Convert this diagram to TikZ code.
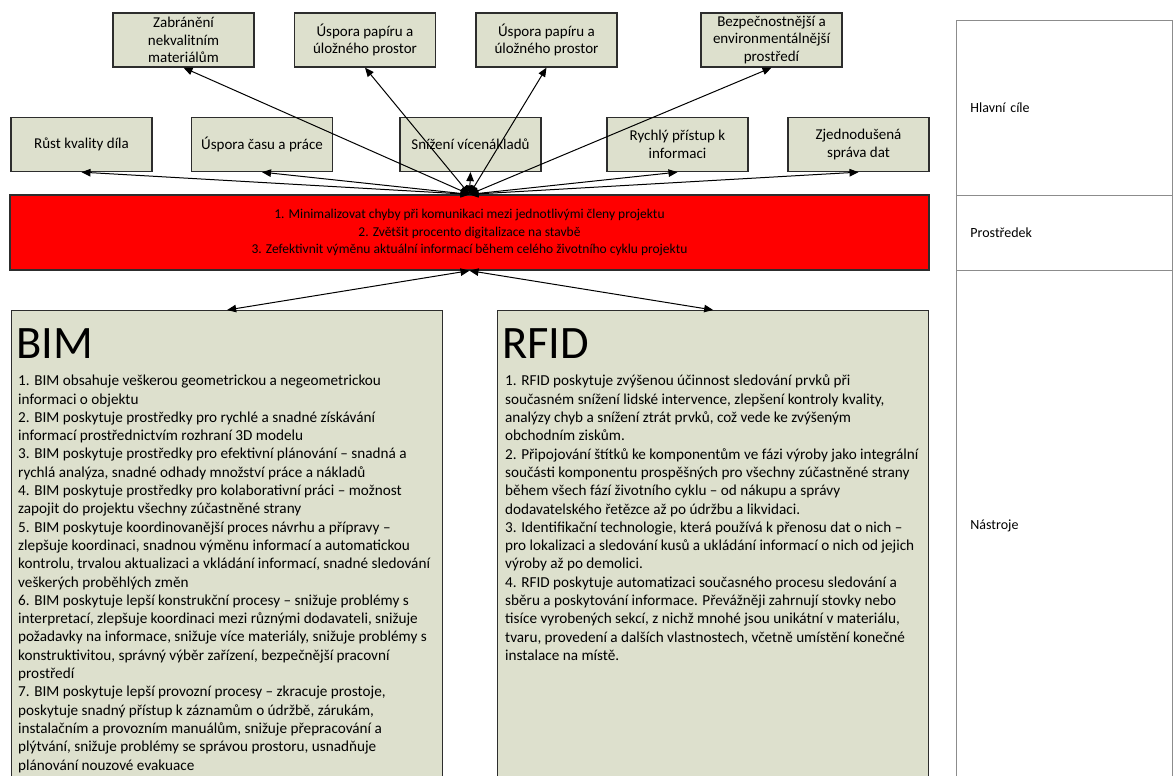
\documentclass[tikz,border=0pt]{standalone}
\usepackage{fontspec}
\setmainfont{Carlito}
\usetikzlibrary{arrows.meta}
\definecolor{boxfill}{RGB}{221,224,205}
\definecolor{boxline}{RGB}{45,45,45}
\definecolor{tabline}{RGB}{140,140,140}
\definecolor{goalred}{RGB}{255,0,0}
\tikzset{
  goalbox/.style={draw=boxline, line width=1.3pt, fill=boxfill,
    minimum width=141pt, minimum height=54pt, inner sep=0pt, align=center,
    font=\fontsize{15}{17.5}\selectfont},
  meansbox/.style={draw=boxline, line width=1.3pt, fill=goalred,
    minimum width=919pt, minimum height=75pt, inner sep=0pt, align=center,
    font=\fontsize{13.5}{17.5}\selectfont},
  panel/.style={draw=boxline, line width=1.3pt, fill=boxfill,
    minimum width=431pt, minimum height=480pt, inner sep=0pt, anchor=north west},
  paneltitle/.style={inner sep=0pt, anchor=base west, font=\fontsize{46.5}{54}\selectfont},
  paneltext/.style={inner sep=0pt, anchor=north west, align=left,
    font=\fontsize{15.2}{18.3}\selectfont},
  cell/.style={draw=tabline, line width=0.8pt, anchor=north west,
    minimum width=216pt, inner xsep=14pt, inner ysep=0pt, text width=188pt,
    align=left, font=\fontsize{14}{16}\selectfont},
  conn/.style={line width=1pt,
    {Triangle[length=9pt,width=7.5pt]}-{Triangle[length=9pt,width=7.5pt]}},
}
\begin{document}
\begin{tikzpicture}[x=1pt, y=-1pt]
\path[use as bounding box, fill=white] (0,0) rectangle (1173,776);
\clip (0,0) rectangle (1173,776);

% upper row of goals
\node[goalbox] (zab) at (183.5,40) {Zabránění\\nekvalitním\\materiálům};
\node[goalbox] (pap1) at (365,40) {Úspora papíru a\\úložného prostor};
\node[goalbox] (pap2) at (546.5,40) {Úspora papíru a\\úložného prostor};
\node[goalbox] (bezp) at (771.5,40) {Bezpečnostnější a\\environmentálnější\\prostředí};

% lower row of goals
\node[goalbox] (rust) at (81.5,144.5) {Růst kvality díla};
\node[goalbox] (cas) at (262,144.5) {Úspora času a práce};
\node[goalbox] (vice) at (470.5,144.5) {Snížení vícenákladů};
\node[goalbox] (pris) at (677.5,144.5) {Rychlý přístup k\\informaci};
\node[goalbox] (sprava) at (858.5,144.5) {Zjednodušená\\správa dat};

% means
\node[meansbox] (means) at (469.5,232.5) {1. Minimalizovat chyby při komunikaci mezi jednotlivými členy projektu\\2. Zvětšit procento digitalizace na stavbě\\3. Zefektivnit výměnu aktuální informací během celého životního cyklu projektu};

% tools
\node[panel] (bim) at (11,310) {};
\node[panel] (rfid) at (497,310) {};
\node[paneltitle] (bimtitle) at (16,358) {BIM};
\node[paneltitle] (rfidtitle) at (502,358) {RFID};
\node[paneltext] (bimtext) at (18,375) {1. BIM obsahuje veškerou geometrickou a negeometrickou\\
informaci o objektu\\
2. BIM poskytuje prostředky pro rychlé a snadné získávání\\
informací prostřednictvím rozhraní 3D modelu\\
3. BIM poskytuje prostředky pro efektivní plánování – snadná a\\
rychlá analýza, snadné odhady množství práce a nákladů\\
4. BIM poskytuje prostředky pro kolaborativní práci – možnost\\
zapojit do projektu všechny zúčastněné strany\\
5. BIM poskytuje koordinovanější proces návrhu a přípravy –\\
zlepšuje koordinaci, snadnou výměnu informací a automatickou\\
kontrolu, trvalou aktualizaci a vkládání informací, snadné sledování\\
veškerých proběhlých změn\\
6. BIM poskytuje lepší konstrukční procesy – snižuje problémy s\\
interpretací, zlepšuje koordinaci mezi různými dodavateli, snižuje\\
požadavky na informace, snižuje více materiály, snižuje problémy s\\
konstruktivitou, správný výběr zařízení, bezpečnější pracovní\\
prostředí\\
7. BIM poskytuje lepší provozní procesy – zkracuje prostoje,\\
poskytuje snadný přístup k záznamům o údržbě, zárukám,\\
instalačním a provozním manuálům, snižuje přepracování a\\
plýtvání, snižuje problémy se správou prostoru, usnadňuje\\
plánování nouzové evakuace};
\node[paneltext] (rfidtext) at (505,375) {1. RFID poskytuje zvýšenou účinnost sledování prvků při\\
současném snížení lidské intervence, zlepšení kontroly kvality,\\
analýzy chyb a snížení ztrát prvků, což vede ke zvýšeným\\
obchodním ziskům.\\
2. Připojování štítků ke komponentům ve fázi výroby jako integrální\\
součásti komponentu prospěšných pro všechny zúčastněné strany\\
během všech fází životního cyklu – od nákupu a správy\\
dodavatelského řetězce až po údržbu a likvidaci.\\
3. Identifikační technologie, která používá k přenosu dat o nich –\\
pro lokalizaci a sledování kusů a ukládání informací o nich od jejich\\
výroby až po demolici.\\
4. RFID poskytuje automatizaci současného procesu sledování a\\
sběru a poskytování informace. Převážněji zahrnují stovky nebo\\
tisíce vyrobených sekcí, z nichž mnohé jsou unikátní v materiálu,\\
tvaru, provedení a dalších vlastnostech, včetně umístění konečné\\
instalace na místě.};

% legend column
\node[cell, minimum height=175pt] (lcile) at (956,20) {Hlavní cíle};
\node[cell, minimum height=75pt] (lprost) at (956,195) {Prostředek};
\node[cell, minimum height=510pt] (lnastr) at (956,270) {Nástroje};

% connectors
\foreach \t in {zab,pap1,pap2,bezp,rust,cas,vice,pris,sprava}
  \draw[conn] (means.north) -- (\t.south);
\draw[conn] (means.south) -- (bim.north);
\draw[conn] (means.south) -- (rfid.north);
\end{tikzpicture}
\end{document}
